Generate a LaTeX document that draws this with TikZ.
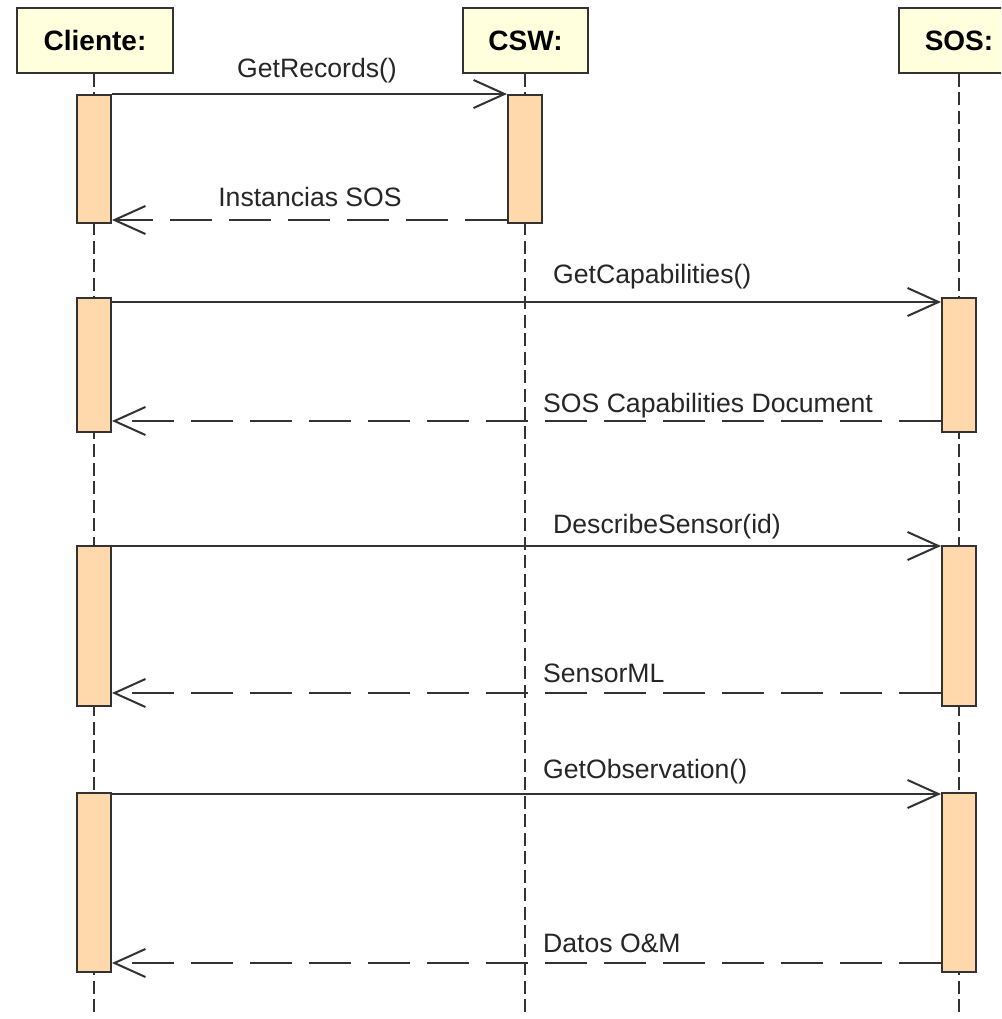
\documentclass[tikz,border=0pt]{standalone}
\usepackage{fontspec}
\setmainfont{Liberation Sans}
\usetikzlibrary{arrows.meta}
\definecolor{hdr}{RGB}{255,255,221}
\definecolor{act}{RGB}{255,216,172}
\definecolor{ink}{RGB}{51,51,51}
\begin{document}
\begin{tikzpicture}[x=1pt,y=-1pt,
  head/.style={draw=ink,line width=2pt,fill=hdr,minimum height=65pt,inner sep=0pt,font=\fontsize{28}{32}\selectfont\bfseries},
  bar/.style={draw=ink,line width=2pt,fill=act,minimum width=34pt,inner sep=0pt},
  life/.style={ink,line width=2pt,dash pattern=on 13pt off 5.5pt},
  msg/.style={ink,line width=2pt,-{Straight Barb[length=31pt,width=28pt]}},
  ret/.style={msg,dash pattern=on 42pt off 17pt},
  lbl/.style={font=\fontsize{26.6}{30}\selectfont,text=black!85,inner sep=0pt}]
\useasboundingbox (0,0) rectangle (1001,1019);
\fill[white] (0,0) rectangle (1001,1019);
\clip (0,0) rectangle (1001,1019);

% headers
\node[head,minimum width=156pt] (cliente) at (95,40.5) {Cliente:};
\node[head,minimum width=125pt] (csw) at (525.5,40.5) {CSW:};
\node[head,minimum width=120pt] (sos) at (959,40.5) {SOS:};

% lifelines
\coordinate (cend) at (94,1015);
\coordinate (wend) at (525,1015);
\coordinate (send) at (959,1015);
\draw[life] (cliente.south -| cend) -- (cend);
\draw[life] (csw.south -| wend) -- (wend);
\draw[life] (sos.south -| send) -- (send);

% activation bars
\node[bar,minimum height=128pt] (a1) at (94,159) {};
\node[bar,minimum height=128pt] (b1) at (525,159) {};
\node[bar,minimum height=134pt] (a2) at (94,365) {};
\node[bar,minimum height=134pt] (s2) at (959,365) {};
\node[bar,minimum height=160pt] (a3) at (94,626) {};
\node[bar,minimum height=160pt] (s3) at (959,626) {};
\node[bar,minimum height=179pt] (a4) at (94,882.5) {};
\node[bar,minimum height=179pt] (s4) at (959,882.5) {};

% messages
\draw[msg] (a1.north east) -- (b1.north west);
\draw[ret] ([yshift=4pt]b1.south west) -- ([yshift=4pt]a1.south east);
\draw[msg] ([yshift=-5pt]a2.north east) -- ([yshift=-5pt]s2.north west);
\draw[ret] ([yshift=12pt]s2.south west) -- ([yshift=12pt]a2.south east);
\draw[msg] ([yshift=-1pt]a3.north east) -- ([yshift=-1pt]s3.north west);
\draw[ret] ([yshift=14pt]s3.south west) -- ([yshift=14pt]a3.south east);
\draw[msg] ([yshift=-2pt]a4.north east) -- ([yshift=-2pt]s4.north west);
\draw[ret] ([yshift=10pt]s4.south west) -- ([yshift=10pt]a4.south east);

% labels
\node[lbl,anchor=base] (l1) at (317,78) {GetRecords()};
\node[lbl,anchor=base] (l2) at (310,207) {Instancias SOS};
\node[lbl,anchor=base west] (l3) at (553,283) {GetCapabilities()};
\node[lbl,anchor=base west] (l4) at (543,412) {SOS Capabilities Document};
\node[lbl,anchor=base west] (l5) at (553,533) {DescribeSensor(id)};
\node[lbl,anchor=base west] (l6) at (543,682) {SensorML};
\node[lbl,anchor=base west] (l7) at (543,778) {GetObservation()};
\node[lbl,anchor=base west] (l8) at (543,952) {Datos O\&M};
\end{tikzpicture}
\end{document}
